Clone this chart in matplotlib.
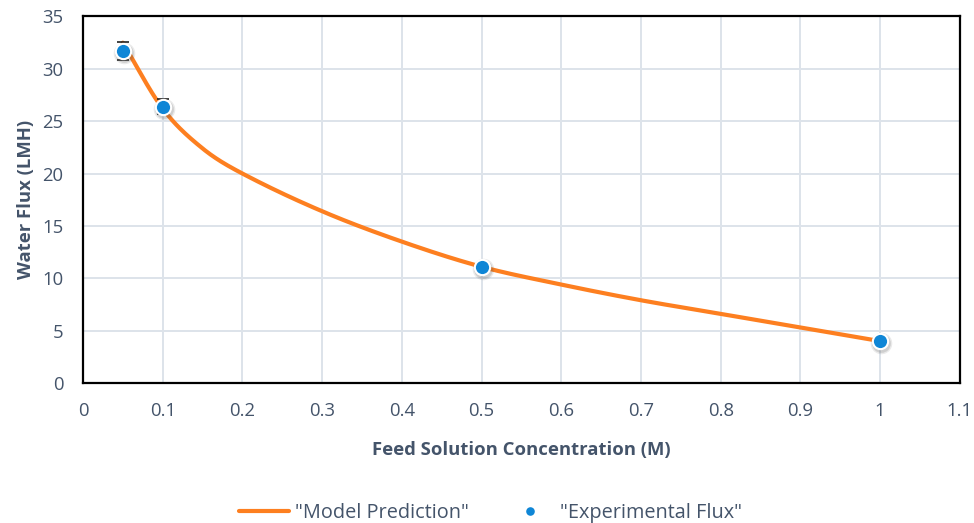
import numpy as np
import matplotlib.pyplot as plt
from matplotlib.transforms import offset_copy

# 模型曲线
model_conc = [0.05, 0.1, 0.15, 0.2, 0.3, 0.4, 0.5, 0.6, 0.7, 0.8, 0.9, 1.0]
model_flux = [32.5, 26.2, 22.4, 20.0, 16.4, 13.5, 11.1, 9.4, 7.9, 6.6, 5.3, 4.0]

# 实验数据
exp_conc = [0.05, 0.1, 0.5, 1.0]
exp_flux = [31.7, 26.4, 11.1, 4.0]
exp_err = [0.9, 0.7, 0.0, 0.0]

x_ticks = [0, 0.1, 0.2, 0.3, 0.4, 0.5, 0.6, 0.7, 0.8, 0.9, 1.0, 1.1]
x_tick_labels = ['0', '0.1', '0.2', '0.3', '0.4', '0.5', '0.6', '0.7', '0.8', '0.9', '1', '1.1']
y_ticks = [0, 5, 10, 15, 20, 25, 30, 35]

text_color = '#44546a'
plt.rcParams['font.family'] = ['Open Sans', 'DejaVu Sans']


def smooth_curve(x, y, n=30):
    """Hermite 平滑，类似 Excel 的平滑线"""
    x = np.asarray(x, float)
    y = np.asarray(y, float)
    m = np.zeros_like(y)
    m[1:-1] = (y[2:] - y[:-2]) / (x[2:] - x[:-2])
    m[0] = (y[1] - y[0]) / (x[1] - x[0])
    m[-1] = (y[-1] - y[-2]) / (x[-1] - x[-2])
    xs, ys = [], []
    for i in range(len(x) - 1):
        h = x[i + 1] - x[i]
        t = np.linspace(0, 1, n, endpoint=False)
        h00 = 2 * t**3 - 3 * t**2 + 1
        h10 = t**3 - 2 * t**2 + t
        h01 = -2 * t**3 + 3 * t**2
        h11 = t**3 - t**2
        xs.append(x[i] + t * h)
        ys.append(h00 * y[i] + h10 * h * m[i] + h01 * y[i + 1] + h11 * h * m[i + 1])
    xs.append([x[-1]])
    ys.append([y[-1]])
    return np.concatenate(xs), np.concatenate(ys)


fig = plt.figure(figsize=(9.74, 5.23), dpi=100)
ax = fig.add_axes([0.0852, 0.2677, 0.9003, 0.7008])

sx, sy = smooth_curve(model_conc, model_flux)
ax.plot(sx, sy, color='#fd7f20', lw=3, solid_capstyle='round', zorder=3,
        label='"Model Prediction"')

# 误差线
ax.errorbar(exp_conc, exp_flux, yerr=exp_err, fmt='none', ecolor='#222222',
            elinewidth=1, capsize=4, capthick=1.2, zorder=4)

# 点的阴影（向右下偏移的灰色圆）
shadow_tr = offset_copy(ax.transData, fig=fig, x=0.8, y=-1.5, units='points')
for a, ms in [(0.12, 15.5), (0.18, 13.5)]:
    ax.plot(exp_conc, exp_flux, 'o', ms=ms, color='#555555', alpha=a, mec='none',
            zorder=4.5, transform=shadow_tr)
ax.plot(exp_conc, exp_flux, 'o', ms=11, color='#0f86d6', mec='white', mew=1.5,
        zorder=5, label='"Experimental Flux"')

ax.set_xlim(0, 1.1)
ax.set_ylim(0, 35)
ax.set_xticks(x_ticks)
ax.set_xticklabels(x_tick_labels)
ax.set_yticks(y_ticks)
ax.tick_params(length=0, labelsize=13.3, labelcolor=text_color, pad=14)
ax.grid(True, color='#dde3ea', lw=1.4)
ax.set_axisbelow(True)
for s in ax.spines.values():
    s.set_color('black')
    s.set_linewidth(1.6)

ax.set_xlabel('Feed Solution Concentration (M)', fontsize=13.3, fontweight='bold',
              color=text_color, labelpad=15)
ax.set_ylabel('Water Flux (LMH)', fontsize=13.3, fontweight='bold',
              color=text_color, labelpad=5)

h, l = ax.get_legend_handles_labels()
fig.legend(h, l, loc='center', bbox_to_anchor=(0.504, 0.019), ncol=2, frameon=False,
           fontsize=14.3, labelcolor=text_color, handlelength=2.5, handletextpad=0.3,
           columnspacing=1.8, markerscale=0.7)

plt.savefig('out.png', dpi=100)
